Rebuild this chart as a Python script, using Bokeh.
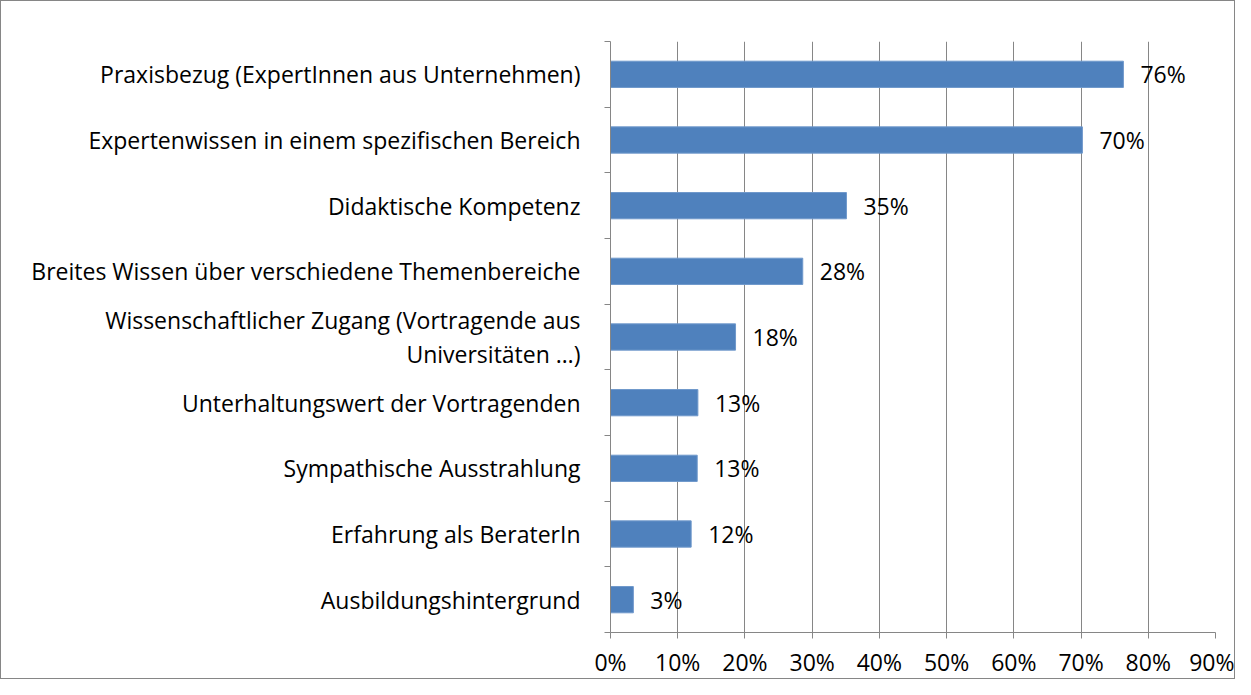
from bokeh.plotting import figure
from bokeh.models import ColumnDataSource, FixedTicker, PrintfTickFormatter, Range1d
from bokeh.core.properties import value
from bokeh.embed import file_html
from bokeh.resources import INLINE

categories = [
    "Praxisbezug (ExpertInnen aus Unternehmen)",
    "Expertenwissen in einem spezifischen Bereich",
    "Didaktische Kompetenz",
    "Breites Wissen über verschiedene Themenbereiche",
    "Wissenschaftlicher Zugang (Vortragende aus\nUniversitäten …)",
    "Unterhaltungswert der Vortragenden",
    "Sympathische Ausstrahlung",
    "Erfahrung als BeraterIn",
    "Ausbildungshintergrund",
]
values = [76.3, 70.2, 35.1, 28.6, 18.6, 13.0, 12.9, 12.0, 3.4]
labels = ["76%", "70%", "35%", "28%", "18%", "13%", "13%", "12%", "3%"]
x_ticks = [0, 10, 20, 30, 40, 50, 60, 70, 80, 90]

FONT = "Open Sans"
FS = "23px"
GRAY = "#868686"

n = len(categories)
ypos = [n - 0.5 - i for i in range(n)]

src = ColumnDataSource(dict(y=ypos, v=values, lab=labels))

p = figure(width=1235, height=679, output_backend="svg", toolbar_location=None,
           x_range=Range1d(0, 90), y_range=Range1d(0, n),
           min_border_left=609, min_border_right=21, min_border_top=40, min_border_bottom=43)

p.hbar(y="y", right="v", left=0, height=0.4, source=src,
       fill_color="#4F81BD", line_color="#6F98CB", line_width=1)
p.text(x="v", y="y", text="lab", source=src, x_offset=17, text_align="left",
       text_baseline="middle", text_font=value(FONT), text_font_size=FS, text_color="#000000")

p.outline_line_color = None
p.background_fill_color = "white"
p.border_fill_color = "white"
p.ygrid.grid_line_color = None
p.xgrid.grid_line_color = GRAY
p.xgrid.grid_line_width = 1
p.xgrid.ticker = FixedTicker(ticks=x_ticks)

xa = p.xaxis[0]
xa.ticker = FixedTicker(ticks=x_ticks)
xa.formatter = PrintfTickFormatter(format="%d%%")
xa.axis_line_color = GRAY
xa.major_tick_line_color = GRAY
xa.major_tick_in = 0
xa.major_tick_out = 6
xa.minor_tick_line_color = None
xa.major_label_standoff = 7
xa.major_label_text_font = FONT
xa.major_label_text_font_size = FS
xa.major_label_text_color = "#000000"

ya = p.yaxis[0]
ya.ticker = FixedTicker(ticks=ypos, minor_ticks=list(range(n + 1)))
ya.major_label_overrides = {y: c for y, c in zip(ypos, categories)}
ya.axis_line_color = GRAY
ya.major_tick_line_color = None
ya.major_tick_in = 0
ya.major_tick_out = 0
ya.minor_tick_line_color = GRAY
ya.minor_tick_in = 0
ya.minor_tick_out = 6
ya.major_label_standoff = 24
ya.major_label_text_font = FONT
ya.major_label_text_font_size = FS
ya.major_label_text_line_height = 1.05
ya.major_label_text_color = "#000000"

p.styles = {"border": "1px solid #868686"}

open("out.html", "w").write(file_html(p, INLINE))
